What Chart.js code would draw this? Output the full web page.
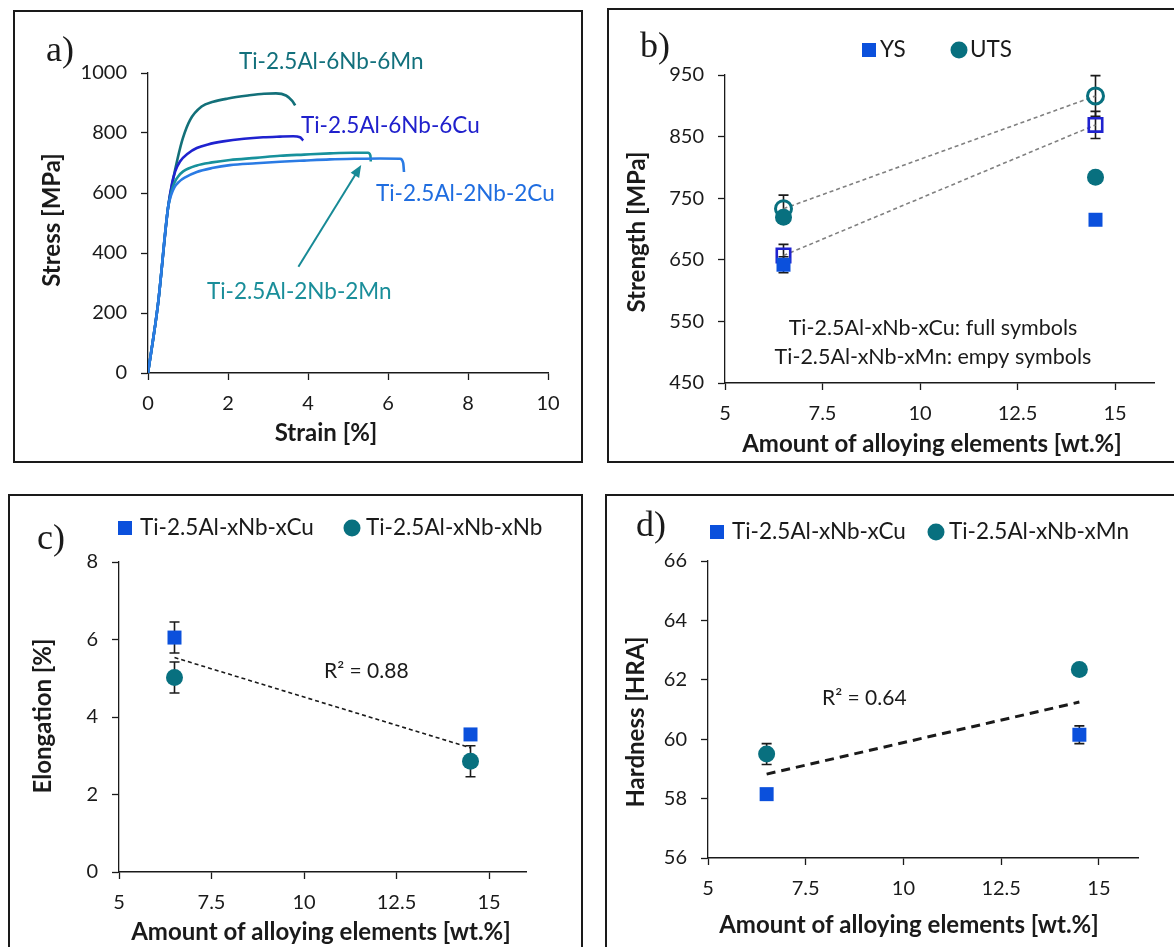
<!DOCTYPE html>
<html>
<head>
<meta charset="utf-8">
<script src="https://cdn.jsdelivr.net/npm/chart.js@4.4.1/dist/chart.umd.min.js"></script>
<style>
  body { margin: 0; background: #fff; width: 1174px; height: 947px; position: relative; overflow: hidden; }
  .panel { position: absolute; border: 2px solid #1a1a1a; box-sizing: border-box; }
  canvas { position: absolute; }
</style>
</head>
<body>
<div class="panel" style="left:13px;top:10px;width:570px;height:453px"></div>
<div class="panel" style="left:607px;top:8px;width:575px;height:455px"></div>
<div class="panel" style="left:8px;top:494px;width:575px;height:470px"></div>
<div class="panel" style="left:605px;top:494px;width:580px;height:470px"></div>

<canvas id="chartA" width="568" height="451" style="left:14px;top:11px"></canvas>
<canvas id="chartB" width="563" height="452" style="left:609px;top:9px"></canvas>
<canvas id="chartC" width="573" height="452" style="left:9px;top:495px"></canvas>
<canvas id="chartD" width="568" height="451" style="left:606px;top:496px"></canvas>

<script>
// a) tensile curves: strain [%] / stress [MPa]
const mn6Strain = [0, 0.25, 0.5, 0.62, 0.74, 0.87, 1.05, 1.34, 1.63, 2.0, 2.5, 2.9, 3.2, 3.45, 3.6, 3.68];
const mn6Stress = [0, 230, 550, 640, 715, 782, 843, 888, 904, 915, 925, 931, 932, 925, 908, 892];
const cu6Strain = [0, 0.25, 0.5, 0.6, 0.68, 0.8, 1.0, 1.22, 1.5, 1.88, 2.4, 2.88, 3.3, 3.63, 3.8, 3.88];
const cu6Stress = [0, 230, 550, 632, 672, 705, 732, 750, 762, 772, 781, 786, 788, 789, 786, 775];
const mn2Strain = [0, 0.25, 0.5, 0.58, 0.66, 0.76, 0.88, 1.22, 1.6, 2.05, 2.7, 3.3, 3.9, 4.55, 5.1, 5.5, 5.56, 5.57];
const mn2Stress = [0, 230, 550, 602, 634, 656, 672, 692, 702, 710, 717, 724, 728, 732, 734, 734, 725, 705];
const cu2Strain = [0, 0.25, 0.5, 0.58, 0.66, 0.78, 0.93, 1.22, 1.6, 2.05, 2.7, 3.3, 3.9, 4.55, 5.2, 5.8, 6.3, 6.38, 6.4];
const cu2Stress = [0, 230, 550, 594, 619, 638, 652, 670, 683, 693, 699, 704, 708, 712, 714, 715, 714, 700, 670];
const strainTicks = [0, 2, 4, 6, 8, 10];
const stressTicks = [0, 200, 400, 600, 800, 1000];

// b) - d) properties vs. total alloying content [wt.%]
const alloyContent = [6.5, 14.5];
const alloyTicks = [5, 7.5, 10, 12.5, 15];

const ysCu = [642, 715],   ysCuErr = [13, 0];
const utsCu = [719, 784],  utsCuErr = [0, 0];
const ysMn = [657, 869],   ysMnErr = [18, 22];
const utsMn = [733, 916],  utsMnErr = [22, 33];
const strengthTicks = [450, 550, 650, 750, 850, 950];

const elongCu = [6.05, 3.55], elongCuErr = [0.4, 0];
const elongNb = [5.02, 2.86], elongNbErr = [0.4, 0.4];
const elongTicks = [0, 2, 4, 6, 8];

const hardCu = [58.15, 60.15], hardCuErr = [0, 0.3];
const hardMn = [59.5, 62.35],  hardMnErr = [0.35, 0];
const hardTicks = [56, 58, 60, 62, 64, 66];

const BLUE = '#0b50dc', TEAL = '#08707f', DARKBLUE = '#1f22cf';
const FONT = 'Lato, "Open Sans", sans-serif';

function xy(xs, ys) { return xs.map((x, i) => ({ x: x, y: ys[i] })); }

// least-squares line through all points of both series
function trend(xs, ys1, ys2) {
  const px = xs.concat(xs), py = ys1.concat(ys2);
  const n = px.length;
  const mx = px.reduce((a, b) => a + b) / n, my = py.reduce((a, b) => a + b) / n;
  let sxy = 0, sxx = 0;
  px.forEach((x, i) => { sxy += (x - mx) * (py[i] - my); sxx += (x - mx) * (x - mx); });
  const k = sxy / sxx;
  return xs.map(x => ({ x: x, y: my + k * (x - mx) }));
}

function axes(xTicks, xMin, xMax, yTicks, yWidth, xHeight) {
  const grid = { display: true, drawOnChartArea: false, drawTicks: true, tickLength: 7, tickColor: '#1a1a1a', tickWidth: 1.3 };
  const tickFont = { family: FONT, size: 20 };
  return {
    x: {
      type: 'linear', min: xMin, max: xMax,
      afterBuildTicks: s => { s.ticks = xTicks.map(v => ({ value: v })); },
      afterFit: s => { s.height = xHeight; },
      grid: grid, border: { display: true, color: '#1a1a1a', width: 1.4 },
      ticks: { color: '#1a1a1a', font: tickFont, padding: 12, maxRotation: 0, callback: v => String(v) }
    },
    y: {
      type: 'linear', min: yTicks[0], max: yTicks[yTicks.length - 1],
      afterBuildTicks: s => { s.ticks = yTicks.map(v => ({ value: v })); },
      afterFit: s => { s.width = yWidth; },
      grid: grid, border: { display: true, color: '#1a1a1a', width: 1.3 },
      ticks: { color: '#1a1a1a', font: tickFont, padding: 14, callback: v => String(v) }
    }
  };
}

// vertical error bars, drawn under the markers
const errorBars = {
  id: 'errorBars',
  beforeDatasetsDraw(chart) {
    const ctx = chart.ctx, xs = chart.scales.x, ys = chart.scales.y;
    chart.data.datasets.forEach(ds => {
      if (!ds.errors) return;
      ds.data.forEach((p, j) => {
        const e = ds.errors[j];
        if (!e) return;
        const px = xs.getPixelForValue(p.x);
        const top = ys.getPixelForValue(p.y + e), bot = ys.getPixelForValue(p.y - e);
        ctx.save();
        ctx.strokeStyle = '#1a1a1a';
        ctx.lineWidth = 1.6;
        ctx.beginPath();
        ctx.moveTo(px, top); ctx.lineTo(px, bot);
        ctx.moveTo(px - 5, top); ctx.lineTo(px + 5, top);
        ctx.moveTo(px - 5, bot); ctx.lineTo(px + 5, bot);
        ctx.stroke();
        ctx.restore();
      });
    });
  }
};

// free text, legends and the arrow; coordinates are page pixels
function decorations(left, top, items) {
  return {
    id: 'decorations',
    afterDraw(chart) {
      const ctx = chart.ctx;
      items.forEach(t => {
        ctx.save();
        ctx.translate(t.x - left, t.y - top);
        if (t.square) {
          ctx.fillStyle = t.square;
          ctx.fillRect(-7, -7, 14, 14);
        } else if (t.circle) {
          ctx.fillStyle = t.circle;
          ctx.beginPath(); ctx.arc(0, 0, 8.5, 0, Math.PI * 2); ctx.fill();
        } else {
          ctx.font = t.font || ('22.5px ' + FONT);
          ctx.fillStyle = t.color || '#1a1a1a';
          ctx.textAlign = t.align || 'left';
          ctx.textBaseline = 'middle';
          if (t.rotate) ctx.rotate(-Math.PI / 2);
          ctx.fillText(t.text, 0, 0);
        }
        ctx.restore();
      });
    }
  };
}

const arrowA = {
  id: 'arrowA',
  afterDatasetsDraw(chart) {
    const ctx = chart.ctx, xs = chart.scales.x, ys = chart.scales.y;
    const x0 = xs.getPixelForValue(3.76), y0 = ys.getPixelForValue(354);
    const x1 = xs.getPixelForValue(5.33), y1 = ys.getPixelForValue(693);
    const ang = Math.atan2(y1 - y0, x1 - x0);
    ctx.save();
    ctx.strokeStyle = ctx.fillStyle = '#178a96';
    ctx.lineWidth = 2;
    ctx.beginPath();
    ctx.moveTo(x0, y0);
    ctx.lineTo(x1 - 8 * Math.cos(ang), y1 - 8 * Math.sin(ang));
    ctx.stroke();
    ctx.beginPath();
    ctx.moveTo(x1, y1);
    ctx.lineTo(x1 - 12 * Math.cos(ang) + 5 * Math.sin(ang), y1 - 12 * Math.sin(ang) - 5 * Math.cos(ang));
    ctx.lineTo(x1 - 12 * Math.cos(ang) - 5 * Math.sin(ang), y1 - 12 * Math.sin(ang) + 5 * Math.cos(ang));
    ctx.closePath();
    ctx.fill();
    ctx.restore();
  }
};

const common = { responsive: false, animation: false, plugins: { legend: { display: false }, tooltip: { enabled: false } } };
const boldTitle = 'bold 24px ' + FONT;
const noteFont = '21.5px ' + FONT;
const letterFont = '36px "Liberation Serif", "Times New Roman", serif';

function curve(xs, ys, color) {
  return { data: xy(xs, ys), borderColor: color, borderWidth: 2.6, pointRadius: 0, showLine: true, cubicInterpolationMode: 'monotone', fill: false };
}

// a) stress-strain
new Chart(document.getElementById('chartA'), {
  type: 'scatter',
  data: {
    datasets: [
      curve(cu2Strain, cu2Stress, '#2a7be4'),
      curve(mn2Strain, mn2Stress, '#17919c'),
      curve(cu6Strain, cu6Stress, DARKBLUE),
      curve(mn6Strain, mn6Stress, '#137079')
    ]
  },
  options: Object.assign({}, common, {
    layout: { padding: { left: 0, top: 62, right: 34, bottom: 0 } },
    scales: axes(strainTicks, 0, 10, stressTicks, 134, 89)
  }),
  plugins: [arrowA, decorations(14, 11, [
    { text: 'a)', x: 46, y: 52, font: letterFont },
    { text: 'Ti-2.5Al-6Nb-6Mn', x: 239, y: 62, color: '#12707c' },
    { text: 'Ti-2.5Al-6Nb-6Cu', x: 301, y: 126, color: '#2020cc' },
    { text: 'Ti-2.5Al-2Nb-2Cu', x: 376, y: 194, color: '#1f6de0' },
    { text: 'Ti-2.5Al-2Nb-2Mn', x: 207, y: 292, color: '#1a8e9a' },
    { text: 'Stress [MPa]', x: 52, y: 220, rotate: true, align: 'center', font: boldTitle },
    { text: 'Strain [%]', x: 326, y: 433, align: 'center', font: boldTitle }
  ])]
});

// b) strength
new Chart(document.getElementById('chartB'), {
  type: 'scatter',
  data: {
    datasets: [
      { data: xy(alloyContent, utsCu), errors: utsCuErr, pointStyle: 'circle', pointRadius: 8.5, backgroundColor: TEAL, borderColor: TEAL, borderWidth: 0 },
      { data: xy(alloyContent, ysCu), errors: ysCuErr, pointStyle: 'rect', pointRadius: 9.9, backgroundColor: BLUE, borderColor: BLUE, borderWidth: 0 },
      { data: xy(alloyContent, utsMn), errors: utsMnErr, showLine: true, borderDash: [4, 3], borderColor: '#808080', borderWidth: 1.6,
        pointStyle: 'circle', pointRadius: 8, pointBackgroundColor: 'rgba(0,0,0,0)', pointBorderColor: TEAL, pointBorderWidth: 3 },
      { data: xy(alloyContent, ysMn), errors: ysMnErr, showLine: true, borderDash: [4, 3], borderColor: '#808080', borderWidth: 1.6,
        pointStyle: 'rect', pointRadius: 9.5, pointBackgroundColor: 'rgba(0,0,0,0)', pointBorderColor: DARKBLUE, pointBorderWidth: 2.6 }
    ]
  },
  options: Object.assign({}, common, {
    layout: { padding: { left: 0, top: 66, right: 18, bottom: 0 } },
    scales: axes(alloyTicks, 5, 16, strengthTicks, 116, 78)
  }),
  plugins: [errorBars, decorations(609, 9, [
    { text: 'b)', x: 640, y: 48, font: letterFont },
    { square: BLUE, x: 869, y: 50 },
    { text: 'YS', x: 880, y: 50 },
    { circle: TEAL, x: 959, y: 50 },
    { text: 'UTS', x: 970, y: 50 },
    { text: 'Ti-2.5Al-xNb-xCu: full symbols', x: 933, y: 328, align: 'center', font: noteFont },
    { text: 'Ti-2.5Al-xNb-xMn: empy symbols', x: 933, y: 357, align: 'center', font: noteFont },
    { text: 'Strength [MPa]', x: 637, y: 232, rotate: true, align: 'center', font: boldTitle },
    { text: 'Amount of alloying elements [wt.%]', x: 932, y: 444, align: 'center', font: boldTitle }
  ])]
});

// c) elongation
new Chart(document.getElementById('chartC'), {
  type: 'scatter',
  data: {
    datasets: [
      { data: trend(alloyContent, elongCu, elongNb), showLine: true, borderColor: '#1a1a1a', borderWidth: 1.6, borderDash: [4, 3], pointRadius: 0 },
      { data: xy(alloyContent, elongNb), errors: elongNbErr, pointStyle: 'circle', pointRadius: 8.5, backgroundColor: TEAL, borderWidth: 0 },
      { data: xy(alloyContent, elongCu), errors: elongCuErr, pointStyle: 'rect', pointRadius: 9.9, backgroundColor: BLUE, borderWidth: 0 }
    ]
  },
  options: Object.assign({}, common, {
    layout: { padding: { left: 0, top: 67, right: 56, bottom: 0 } },
    scales: axes(alloyTicks, 5, 16, elongTicks, 110, 75)
  }),
  plugins: [errorBars, decorations(9, 495, [
    { text: 'c)', x: 37, y: 540, font: letterFont },
    { square: BLUE, x: 125, y: 528 },
    { text: 'Ti-2.5Al-xNb-xCu', x: 140, y: 528 },
    { circle: TEAL, x: 352, y: 528 },
    { text: 'Ti-2.5Al-xNb-xNb', x: 366, y: 528 },
    { text: 'R² = 0.88', x: 324, y: 671, font: '21px ' + FONT },
    { text: 'Elongation [%]', x: 43, y: 716, rotate: true, align: 'center', font: boldTitle },
    { text: 'Amount of alloying elements [wt.%]', x: 321, y: 932, align: 'center', font: boldTitle }
  ])]
});

// d) hardness
new Chart(document.getElementById('chartD'), {
  type: 'scatter',
  data: {
    datasets: [
      { data: trend(alloyContent, hardCu, hardMn), showLine: true, borderColor: '#1a1a1a', borderWidth: 3, borderDash: [9, 6], pointRadius: 0 },
      { data: xy(alloyContent, hardMn), errors: hardMnErr, pointStyle: 'circle', pointRadius: 8.5, backgroundColor: TEAL, borderWidth: 0 },
      { data: xy(alloyContent, hardCu), errors: hardCuErr, pointStyle: 'rect', pointRadius: 9.9, backgroundColor: BLUE, borderWidth: 0 }
    ]
  },
  options: Object.assign({}, common, {
    layout: { padding: { left: 0, top: 65, right: 36, bottom: 0 } },
    scales: axes(alloyTicks, 5, 16, hardTicks, 102, 89)
  }),
  plugins: [errorBars, decorations(606, 496, [
    { text: 'd)', x: 636, y: 527, font: letterFont },
    { square: BLUE, x: 717, y: 532 },
    { text: 'Ti-2.5Al-xNb-xCu', x: 732, y: 532 },
    { circle: TEAL, x: 936, y: 532 },
    { text: 'Ti-2.5Al-xNb-xMn', x: 949, y: 532 },
    { text: 'R² = 0.64', x: 822, y: 698, font: '21px ' + FONT },
    { text: 'Hardness [HRA]', x: 636, y: 722, rotate: true, align: 'center', font: boldTitle },
    { text: 'Amount of alloying elements [wt.%]', x: 909, y: 925, align: 'center', font: boldTitle }
  ])]
});
</script>
</body>
</html>
